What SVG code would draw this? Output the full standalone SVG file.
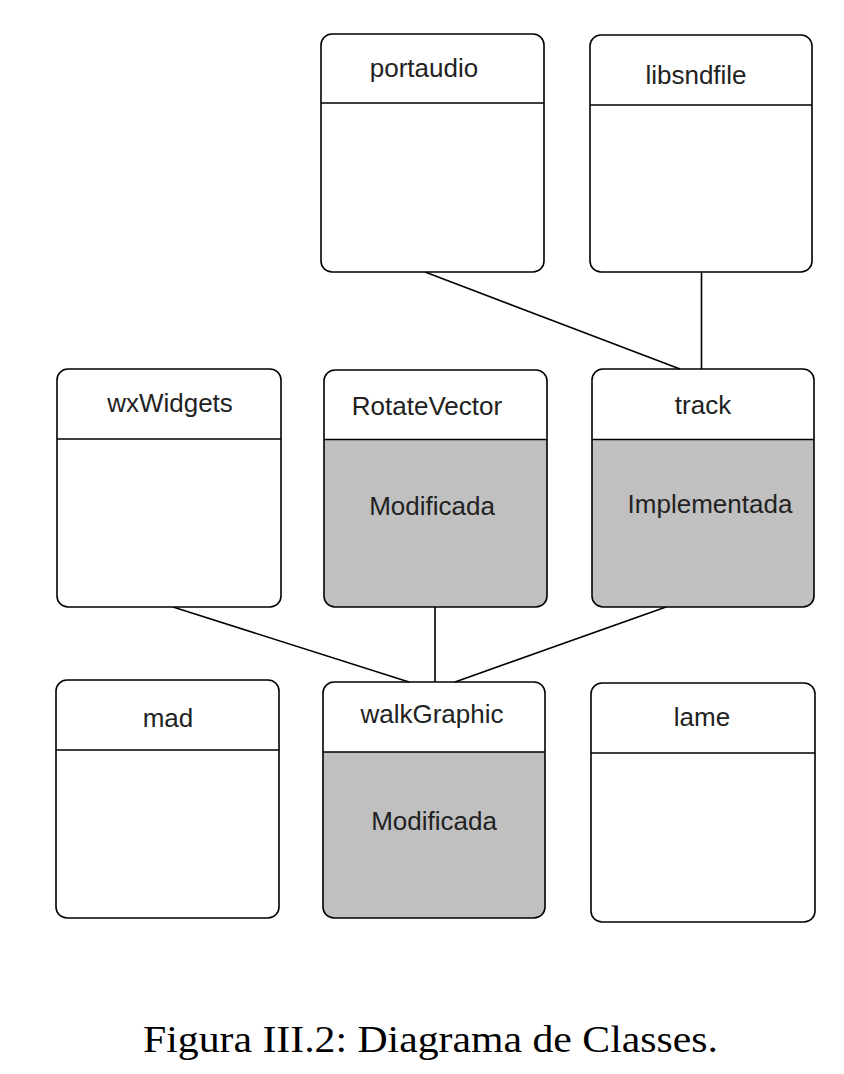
<svg xmlns="http://www.w3.org/2000/svg" width="844" height="1074" viewBox="0 0 844 1074">
<style>
.box{fill:#ffffff;stroke:#000;stroke-width:1.6}
.shade{fill:#c0c0c0;stroke:none}
.sep{stroke:#000;stroke-width:1.6}
.lbl{font-family:"Liberation Sans",Arial,sans-serif;font-size:26px;fill:#222;text-anchor:middle}
.con{stroke:#000;stroke-width:1.6;fill:none}
.cap{font-family:"Liberation Serif","Times New Roman",serif;font-size:38px;fill:#000}
</style>
<rect width="844" height="1074" fill="#fff"/>
<g id="connectors">
<line class="con" x1="425" y1="272" x2="680" y2="369"/>
<line class="con" x1="701.5" y1="272" x2="701.5" y2="369"/>
<line class="con" x1="173" y1="607" x2="409" y2="682"/>
<line class="con" x1="435" y1="607" x2="435" y2="682"/>
<line class="con" x1="666" y1="607" x2="455" y2="682"/>
</g>
<g id="portaudio">
<rect class="box" x="321" y="34" width="223" height="238" rx="11"/>
<line class="sep" x1="321" y1="103" x2="544" y2="103"/>
<text class="lbl" x="424" y="77">portaudio</text>
</g>
<g id="libsndfile">
<rect class="box" x="590" y="35" width="222" height="237" rx="11"/>
<line class="sep" x1="590" y1="105" x2="812" y2="105"/>
<text class="lbl" x="696" y="84">libsndfile</text>
</g>
<g id="wxWidgets">
<rect class="box" x="57" y="369" width="224" height="238" rx="11"/>
<line class="sep" x1="57" y1="439" x2="281" y2="439"/>
<text class="lbl" x="170" y="412">wxWidgets</text>
</g>
<g id="RotateVector">
<path class="shade" d="M324,439.5 H547 V596 a11,11 0 0 1 -11,11 H335 a11,11 0 0 1 -11,-11 Z"/>
<rect class="box" x="324" y="370" width="223" height="237" rx="11" style="fill:none"/>
<line class="sep" x1="324" y1="439.5" x2="547" y2="439.5"/>
<text class="lbl" x="427" y="415">RotateVector</text>
<text class="lbl" x="432" y="515">Modificada</text>
</g>
<g id="track">
<path class="shade" d="M592,439.5 H814 V596 a11,11 0 0 1 -11,11 H603 a11,11 0 0 1 -11,-11 Z"/>
<rect class="box" x="592" y="369" width="222" height="238" rx="11" style="fill:none"/>
<line class="sep" x1="592" y1="439.5" x2="814" y2="439.5"/>
<text class="lbl" x="703" y="414">track</text>
<text class="lbl" x="710" y="513">Implementada</text>
</g>
<g id="mad">
<rect class="box" x="56" y="680" width="223" height="238" rx="11"/>
<line class="sep" x1="56" y1="750" x2="279" y2="750"/>
<text class="lbl" x="168" y="727">mad</text>
</g>
<g id="walkGraphic">
<path class="shade" d="M323,752 H545 V907 a11,11 0 0 1 -11,11 H334 a11,11 0 0 1 -11,-11 Z"/>
<rect class="box" x="323" y="682" width="222" height="236" rx="11" style="fill:none"/>
<line class="sep" x1="323" y1="752" x2="545" y2="752"/>
<text class="lbl" x="432" y="723">walkGraphic</text>
<text class="lbl" x="434" y="830">Modificada</text>
</g>
<g id="lame">
<rect class="box" x="591" y="683" width="224" height="239" rx="11"/>
<line class="sep" x1="591" y1="753" x2="815" y2="753"/>
<text class="lbl" x="702" y="726">lame</text>
</g>
<text class="cap" x="143" y="1052" textLength="575" lengthAdjust="spacingAndGlyphs">Figura III.2: Diagrama de Classes.</text>
</svg>
